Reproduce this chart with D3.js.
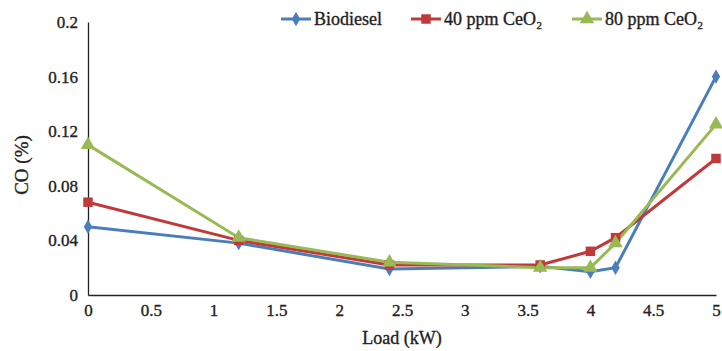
<!DOCTYPE html>
<html><head><meta charset="utf-8">
<script src="https://cdn.jsdelivr.net/npm/d3@7"></script>
<style>body{margin:0;background:#fff}svg{display:block}text{font-family:"Liberation Serif","Times New Roman",serif;fill:#222;stroke:#222;stroke-width:0.35px}</style>
</head><body><svg id="c" width="722" height="351"></svg>
<script>
const loads = [0, 1.2, 2.4, 3.6, 4, 4.2, 5];
const biodiesel = [0.05, 0.038, 0.019, 0.021, 0.017, 0.020, 0.160];
const ceo40 = [0.068, 0.040, 0.022, 0.022, 0.032, 0.042, 0.100];
const ceo80 = [0.110, 0.042, 0.024, 0.020, 0.020, 0.038, 0.125];
const seriesNames = ["Biodiesel", "40 ppm CeO₂", "80 ppm CeO₂"];
const xTicks = [0, 0.5, 1, 1.5, 2, 2.5, 3, 3.5, 4, 4.5, 5];
const yTicks = [0, 0.04, 0.08, 0.12, 0.16, 0.2];

const colors = ["#4a7ebb", "#c0393b", "#98b954"];
const symbols = [d3.symbolDiamond, d3.symbolSquare, d3.symbolTriangle];
const symSizes = [60, 90, 90];
const series = [biodiesel, ceo40, ceo80];

const svg = d3.select("#c");
const L = 88, R = 716, T = 22, B = 295;
const x = d3.scaleLinear().domain([0, 5]).range([L, R]);
const y = d3.scaleLinear().domain([0, 0.2]).range([B, T]);

const xa = svg.append("g").attr("transform", `translate(0,${B})`)
  .call(d3.axisBottom(x).tickValues(xTicks).tickSize(0).tickPadding(9).tickFormat(d => String(d)));
xa.select(".domain").attr("stroke", "#222").attr("stroke-width", 1.3);
xa.selectAll("text").attr("font-size", 17).style("font-family", '"Liberation Serif",serif').attr("fill", "#222");

const ya = svg.append("g").attr("transform", `translate(${L},0)`)
  .call(d3.axisLeft(y).tickValues(yTicks).tickSize(0).tickPadding(10).tickFormat(d => String(d)));
ya.select(".domain").attr("stroke", "#222").attr("stroke-width", 1.3);
ya.selectAll("text").attr("font-size", 17).style("font-family", '"Liberation Serif",serif').attr("fill", "#222");

const line = d3.line().x((d, i) => x(loads[i])).y(d => y(d));
series.forEach((s, k) => {
  svg.append("path").datum(s).attr("d", line).attr("fill", "none")
    .attr("stroke", colors[k]).attr("stroke-width", 3);
});
series.forEach((s, k) => {
  svg.append("g").selectAll("path").data(s).join("path")
    .attr("d", d3.symbol().type(symbols[k]).size(symSizes[k]))
    .attr("transform", (d, i) => `translate(${x(loads[i])},${y(d)})`)
    .attr("fill", colors[k]);
});

svg.append("text").attr("transform", "translate(28,165) rotate(-90)")
  .attr("text-anchor", "middle").attr("font-size", 19).text("CO (%)");
svg.append("text").attr("x", 402).attr("y", 344)
  .attr("text-anchor", "middle").attr("font-size", 18).text("Load (kW)");

const legX = [281, 411, 572];
const leg = svg.append("g");
seriesNames.forEach((n, k) => {
  const g = leg.append("g").attr("transform", `translate(${legX[k]},19)`);
  g.append("line").attr("x1", 0).attr("x2", 30).attr("y1", 0).attr("y2", 0)
    .attr("stroke", colors[k]).attr("stroke-width", 3);
  g.append("path").attr("d", d3.symbol().type(symbols[k]).size(symSizes[k]))
    .attr("transform", "translate(15,0)").attr("fill", colors[k]);
  g.append("text").attr("x", 33).attr("y", 6).attr("font-size", 18).text(n);
});
</script></body></html>
